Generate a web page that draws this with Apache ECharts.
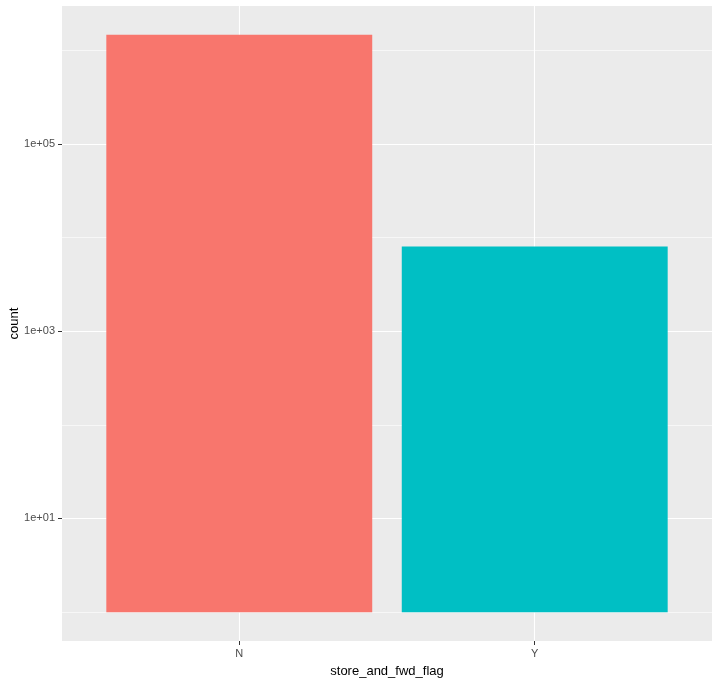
<!DOCTYPE html>
<html>
<head>
<meta charset="utf-8">
<script src="https://cdn.jsdelivr.net/npm/echarts@6/dist/echarts.min.js"></script>
<style>html,body{margin:0;padding:0;background:#fff}#c{width:720px;height:684px}</style>
</head>
<body>
<div id="c"></div>
<script>
const categories = ['N', 'Y'];
const counts = [1455000, 8030];
const barColors = ['#F8766D', '#00BFC4'];
const yMajorTicks = [10, 1000, 100000];
const yMinorTicks = [1, 100, 10000, 1000000];
const yTickLabels = ['1e+01', '1e+03', '1e+05'];

const logMax = Math.log10(Math.max.apply(null, counts));
const pad = 0.05 * logMax;
const yMin = Math.pow(10, -pad);
const yMax = Math.pow(10, logMax + pad);

const chart = echarts.init(document.getElementById('c'), null, {renderer: 'canvas'});
const font = 'Liberation Sans, Arial, sans-serif';
chart.setOption({
  animation: false,
  backgroundColor: '#ffffff',
  grid: {left: 62, right: 8, top: 6, bottom: 43, show: true, backgroundColor: '#EBEBEB', borderWidth: 0,
    containLabel: false, outerBoundsMode: 'none'},
  xAxis: {
    type: 'value', min: 0.4, max: 2.6,
    name: 'store_and_fwd_flag', nameLocation: 'middle', nameGap: 24, nameMoveOverlap: false,
    nameTextStyle: {color: '#000', fontSize: 13, fontFamily: font},
    axisLine: {show: false},
    axisTick: {show: true, length: 4, customValues: [1, 2], lineStyle: {color: '#333333', width: 1}},
    axisLabel: {customValues: [1, 2], margin: 7, color: '#4D4D4D', fontSize: 11, fontFamily: font,
      formatter: v => categories[Math.round(v) - 1] || ''},
    splitLine: {show: true, lineStyle: {color: '#ffffff', width: 1.1}}
  },
  yAxis: [{
    type: 'log', logBase: 10, min: yMin, max: yMax,
    name: 'count', nameLocation: 'middle', nameGap: 41, nameRotate: 90, nameMoveOverlap: false,
    nameTextStyle: {color: '#000', fontSize: 13, fontFamily: font},
    axisLine: {show: false},
    axisTick: {show: true, length: 4, customValues: yMajorTicks, lineStyle: {color: '#333333', width: 1}},
    axisLabel: {customValues: yMajorTicks, margin: 7, color: '#4D4D4D', fontSize: 11, fontFamily: font,
      formatter: v => { const i = yMajorTicks.findIndex(t => Math.abs(Math.log10(t) - Math.log10(v)) < 1e-6); return i >= 0 ? yTickLabels[i] : ''; }},
    splitLine: {show: true, lineStyle: {color: '#ffffff', width: 1.1}}
  }, {
    type: 'log', logBase: 10, min: yMin, max: yMax, position: 'left',
    axisLine: {show: false},
    axisTick: {show: false, customValues: yMinorTicks},
    axisLabel: {show: false, customValues: yMinorTicks},
    splitLine: {show: true, lineStyle: {color: '#ffffff', width: 0.6}}
  }],
  series: [{
    type: 'bar', yAxisIndex: 0, barWidth: '90%',
    data: counts.map((v, i) => ({value: [i + 1, v], itemStyle: {color: barColors[i]}}))
  }]
});
</script>
</body>
</html>
